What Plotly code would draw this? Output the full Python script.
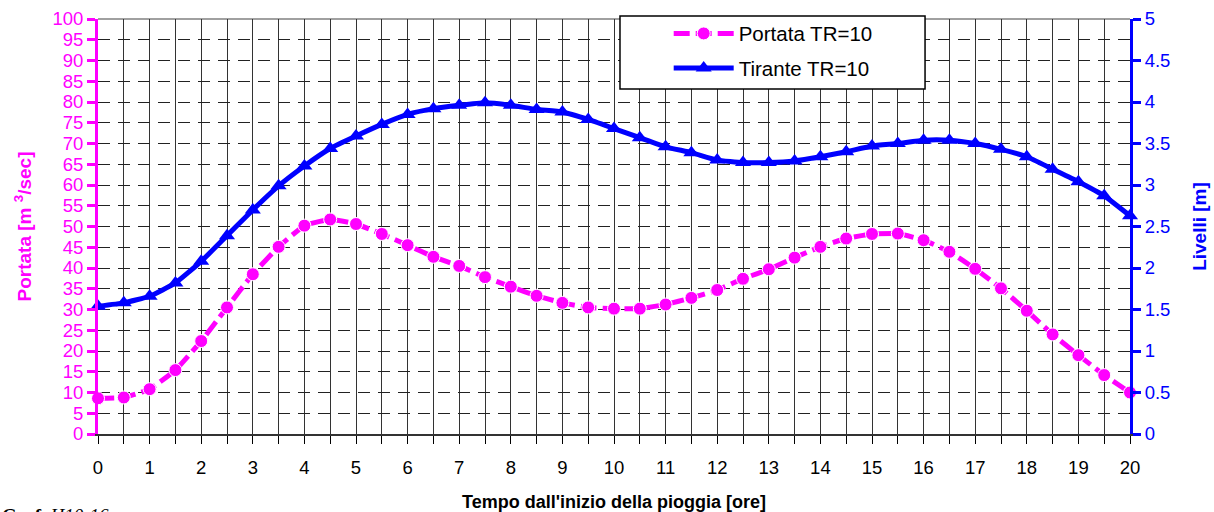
import plotly.graph_objects as go

# ---- data ----
tempo = [i * 0.5 for i in range(41)]
portata = [8.6, 8.8, 10.8, 15.4, 22.4, 30.5, 38.5, 45.1, 50.2, 51.7,
           50.6, 48.2, 45.5, 42.7, 40.5, 37.8, 35.5, 33.3, 31.6, 30.5,
           30.2, 30.2, 31.2, 32.8, 34.7, 37.4, 39.7, 42.5, 45.1, 47.1,
           48.2, 48.3, 46.7, 43.9, 39.8, 35.1, 29.7, 24.0, 19.0, 14.2, 10.0]
tirante = [1.54, 1.58, 1.66, 1.82, 2.08, 2.39, 2.70, 2.99, 3.23, 3.44,
           3.59, 3.73, 3.85, 3.92, 3.96, 3.99, 3.96, 3.91, 3.88, 3.79,
           3.68, 3.57, 3.46, 3.39, 3.30, 3.27, 3.27, 3.29, 3.34, 3.40,
           3.47, 3.50, 3.54, 3.54, 3.50, 3.43, 3.34, 3.19, 3.04, 2.87, 2.63]
name_portata = "Portata TR=10"
name_tirante = "Tirante TR=10"

MAG = "#FF00FF"
BLU = "#0000FF"
FONT = "Arial, 'Liberation Sans', sans-serif"

fig = go.Figure()
fig.add_trace(go.Scatter(
    x=tempo, y=portata, name=name_portata, mode="lines+markers",
    line=dict(color=MAG, width=5, dash="16px,6px", shape="spline", smoothing=0.4),
    marker=dict(symbol="circle", size=13, color=MAG, line=dict(color="white", width=1)),
    cliponaxis=False, legendgroup="a", yaxis="y"))
fig.add_trace(go.Scatter(
    x=tempo, y=tirante, name=name_tirante, mode="lines+markers",
    line=dict(color=BLU, width=5, shape="spline", smoothing=0.4),
    marker=dict(symbol="triangle-up", size=14, color=BLU),
    cliponaxis=False, legendgroup="b", yaxis="y2"))

# legend box (paper coords derived from plot area)
fig.add_shape(type="rect", xref="paper", yref="paper",
              x0=0.5058, x1=0.8014, y0=0.8313, y1=1.0072,
              fillcolor="white", line=dict(color="black", width=1.5), layer="above")
# top border of plot area
fig.add_shape(type="line", xref="paper", yref="paper", x0=0, x1=1, y0=1, y1=1,
              line=dict(color="#808080", width=1.5), layer="below")

fig.add_annotation(xref="paper", yref="paper", x=-0.095, y=-0.167, xanchor="left",
                   yanchor="top", showarrow=False,
                   text="<b>Graf.</b> <i>H10-16</i>",
                   font=dict(family="'Liberation Serif', 'Times New Roman', serif", size=19, color="black"))

fig.update_layout(
    width=1214, height=512,
    margin=dict(l=98, r=84, t=19, b=78, autoexpand=False),
    paper_bgcolor="white", plot_bgcolor="white",
    font=dict(family=FONT, color="black"),
    showlegend=True,
    legend=dict(x=0.553, y=1.013, xanchor="left", yanchor="top",
                bgcolor="rgba(0,0,0,0)", borderwidth=0,
                font=dict(size=20.5, family=FONT, color="black"),
                itemwidth=60, tracegroupgap=5, traceorder="grouped"),
    xaxis=dict(
        range=[0, 20], dtick=1, tick0=0, automargin=False,
        showline=True, linecolor="#333333", linewidth=1.5,
        ticks="outside", ticklen=8, tickcolor="black", tickwidth=1,
        showgrid=True, gridcolor="#333333", gridwidth=1,
        tickfont=dict(size=18.5, color="black"),
        minor=dict(dtick=0.5, tick0=0, showgrid=True, gridcolor="#333333", gridwidth=1,
                   ticks="outside", ticklen=8, tickcolor="black"),
        zeroline=False, ticklabelstandoff=8,
        title=dict(text="<b>Tempo dall'inizio della pioggia [ore]</b>",
                   font=dict(size=18, color="black"), standoff=19),
    ),
    yaxis=dict(
        range=[0, 100], dtick=5, tick0=0, automargin=False,
        showline=True, linecolor=MAG, linewidth=3,
        ticks="outside", ticklen=8, tickcolor=MAG, tickwidth=2.5,
        tickfont=dict(size=18.5, color=MAG),
        showgrid=True, gridcolor="#222222", gridwidth=1, griddash="12px,8px",
        zeroline=False,
        title=dict(text="<b>Portata [m <sup>3</sup>/sec]</b>",
                   font=dict(size=19, color=MAG), standoff=16),
    ),
    yaxis2=dict(
        range=[0, 5], dtick=0.5, tick0=0, overlaying="y", side="right", automargin=False,
        showline=True, linecolor=BLU, linewidth=3,
        ticks="outside", ticklen=8, tickcolor=BLU, tickwidth=2.5,
        tickfont=dict(size=18.5, color=BLU),
        showgrid=False, zeroline=False,
        title=dict(text="<b>Livelli [m]</b>", font=dict(size=19, color=BLU), standoff=24),
    ),
)

fig.write_html("out.html")
